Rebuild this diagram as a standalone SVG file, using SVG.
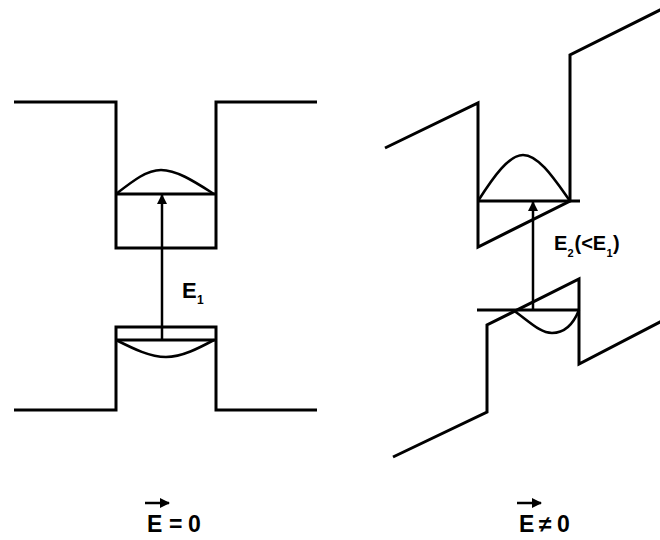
<svg xmlns="http://www.w3.org/2000/svg" width="660" height="540" viewBox="0 0 660 540">
<style>
.band{fill:none;stroke:#000;stroke-width:3;stroke-linejoin:miter;stroke-linecap:butt}
.lvl{fill:none;stroke:#000;stroke-width:3}
.wave{fill:none;stroke:#000;stroke-width:2.6}
.arr{fill:none;stroke:#000;stroke-width:2.5}
.lbl{font-family:"Liberation Sans",Arial,sans-serif;font-weight:bold;fill:#000}
</style>
<defs>
<marker id="ah" viewBox="0 0 10 10" refX="9" refY="5" markerWidth="4" markerHeight="4" orient="auto" markerUnits="strokeWidth">
<path d="M0,0 L10,5 L0,10 z" fill="#000"/>
</marker>
</defs>
<rect width="660" height="540" fill="#fff"/>
<g id="left-diagram">
<g id="left-conduction">
<polyline class="band" points="14,102 116,102 116,248 216,248 216,102 317,102"/>
<line class="lvl" x1="116" y1="194" x2="216" y2="194"/>
<path class="wave" d="M116,194 C134,180 147,170 161,170 C177,170 195,182 214,194"/>
</g>
<g id="left-valence">
<polyline class="band" points="14,410 116,410 116,327 216,327 216,410 317,410"/>
<line class="lvl" x1="116" y1="340" x2="216" y2="340"/>
<path class="wave" d="M116,340 C134,349 150,357 166,357 C182,357 199,348 214,340"/>
</g>
<text class="lbl" font-size="22"><tspan x="182" y="298">E</tspan><tspan x="197" y="304" font-size="12">1</tspan></text>
<text class="lbl" font-size="23"><tspan x="147" y="532">E</tspan><tspan x="169" y="532">=</tspan><tspan x="188" y="532">0</tspan></text>
</g>
<g id="right-diagram">
<g id="right-conduction">
<polyline class="band" points="385,148 478,103 478,247 570,201 570,55 662,9"/>
<line class="lvl" x1="478" y1="201" x2="580" y2="201"/>
<path class="wave" d="M478,201 C494,176 509,155 523,155 C539,155 555,180 570,201"/>
</g>
<g id="right-valence">
<polyline class="band" points="393,457 487,412 487,325 579,279 579,364 662,321"/>
<line class="lvl" x1="477" y1="310" x2="579" y2="310"/>
<path class="wave" d="M513,310 C530,322 540,333 552,333 C565,333 573,325 579,310"/>
</g>
<text class="lbl" font-size="20"><tspan x="554" y="250">E</tspan><tspan x="567.5" y="257" font-size="11">2</tspan><tspan x="574.5" y="250">(&lt;E</tspan><tspan x="606.5" y="257" font-size="11">1</tspan><tspan x="613" y="250">)</tspan></text>
<text class="lbl" font-size="23"><tspan x="519" y="532">E</tspan><tspan x="539" y="532">≠</tspan><tspan x="557" y="532">0</tspan></text>
</g>
<g id="connectors">
<line class="arr" x1="162" y1="340" x2="162" y2="195" marker-end="url(#ah)"/>
<line class="arr" x1="533" y1="310" x2="533" y2="202" marker-end="url(#ah)"/>
<line class="arr" x1="145" y1="503" x2="169" y2="503" marker-end="url(#ah)"/>
<line class="arr" x1="517" y1="503" x2="541" y2="503" marker-end="url(#ah)"/>
</g>
</svg>
